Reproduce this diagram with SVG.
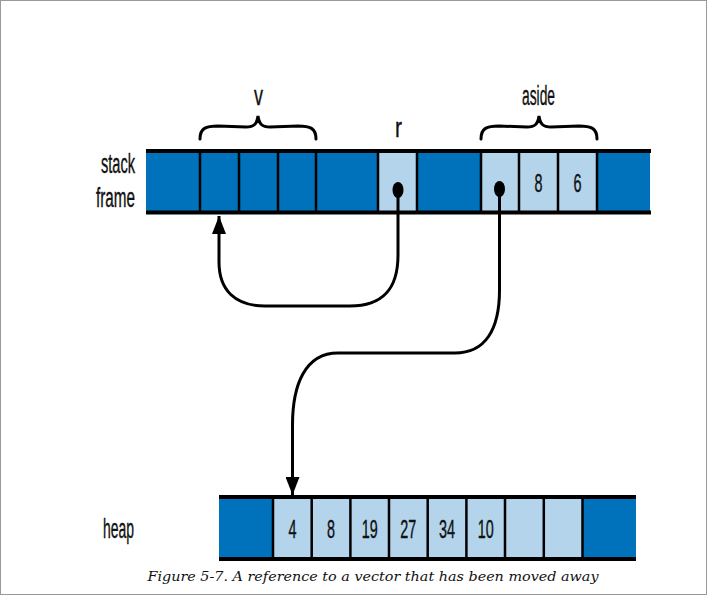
<svg xmlns="http://www.w3.org/2000/svg" width="707" height="595" viewBox="0 0 707 595">
<style>
.dark{fill:#0071bb}
.light{fill:#b3d4ea}
.rail{stroke:#000;stroke-width:4;fill:none}
.div{stroke:#000;stroke-width:2.5}
.lbl{font-family:"Liberation Sans",Arial,sans-serif;font-size:27px;fill:#111;stroke:#111;stroke-width:0.4}
.num{font-family:"Liberation Sans",Arial,sans-serif;font-size:25px;fill:#111;stroke:#111;stroke-width:0.4;text-anchor:middle}
.brace{stroke:#000;stroke-width:3;fill:none;stroke-linecap:round}
.conn{stroke:#000;stroke-width:3;fill:none}
.cap{font-family:"DejaVu Serif","Liberation Serif",serif;font-style:italic;font-size:12.5px;fill:#111;text-anchor:middle}
</style>
<defs>
<marker id="arrow" viewBox="0 0 18 14" refX="18" refY="7" markerWidth="18" markerHeight="14" markerUnits="userSpaceOnUse" orient="auto">
<path d="M0,0 L18,7 L0,14 Z" fill="#000"/>
</marker>
</defs>
<rect x="0.5" y="0.5" width="706" height="594" fill="#fff" stroke="#999" stroke-width="1"/>

<g id="stack-frame">
<rect class="dark" x="146" y="151" width="504" height="61"/>
<rect class="light" x="378" y="151" width="39" height="61"/>
<rect class="light" x="481" y="151" width="116" height="61"/>
<g class="div">
<line x1="200" y1="151" x2="200" y2="212"/>
<line x1="239" y1="151" x2="239" y2="212"/>
<line x1="278" y1="151" x2="278" y2="212"/>
<line x1="316" y1="151" x2="316" y2="212"/>
<line x1="378" y1="151" x2="378" y2="212"/>
<line x1="417" y1="151" x2="417" y2="212"/>
<line x1="481" y1="151" x2="481" y2="212"/>
<line x1="519" y1="151" x2="519" y2="212"/>
<line x1="558" y1="151" x2="558" y2="212"/>
<line x1="597" y1="151" x2="597" y2="212"/>
</g>
<line class="rail" x1="146" y1="151" x2="651" y2="151"/>
<line class="rail" x1="146" y1="212.5" x2="651" y2="212.5"/>
<text class="num" x="538.5" y="192" textLength="8" lengthAdjust="spacingAndGlyphs">8</text>
<text class="num" x="577.5" y="192" textLength="8" lengthAdjust="spacingAndGlyphs">6</text>
<text class="lbl" x="101" y="173" textLength="34" lengthAdjust="spacingAndGlyphs">stack</text>
<text class="lbl" x="96" y="207" textLength="39" lengthAdjust="spacingAndGlyphs">frame</text>
</g>

<g id="v-label">
<path class="brace" d="M200,139 C200,128 206,126 218,126 L246,127 C254,127 257,124 258,116 C259,124 262,127 270,127 L298,126 C310,126 316,128 316,139"/>
<text class="lbl" x="254" y="105" textLength="9" lengthAdjust="spacingAndGlyphs">v</text>
</g>

<g id="r-label">
<text class="lbl" x="395" y="137" textLength="7" lengthAdjust="spacingAndGlyphs">r</text>
</g>

<g id="aside-label">
<path class="brace" d="M481,139 C481,128 487,126 499,126 L527,127 C535,127 538,124 539,116 C540,124 543,127 551,127 L579,126 C591,126 597,128 597,139"/>
<text class="lbl" x="522" y="105" textLength="33" lengthAdjust="spacingAndGlyphs">aside</text>
</g>

<g id="heap">
<rect class="dark" x="219" y="497" width="417" height="62"/>
<rect class="light" x="273" y="497" width="309.5" height="62"/>
<g class="div">
<line x1="273" y1="497" x2="273" y2="559"/>
<line x1="311.7" y1="497" x2="311.7" y2="559"/>
<line x1="350.4" y1="497" x2="350.4" y2="559"/>
<line x1="389" y1="497" x2="389" y2="559"/>
<line x1="427.7" y1="497" x2="427.7" y2="559"/>
<line x1="466.4" y1="497" x2="466.4" y2="559"/>
<line x1="505" y1="497" x2="505" y2="559"/>
<line x1="543.8" y1="497" x2="543.8" y2="559"/>
<line x1="582.5" y1="497" x2="582.5" y2="559"/>
</g>
<line class="rail" x1="219" y1="497" x2="636" y2="497"/>
<line class="rail" x1="219" y1="559" x2="636" y2="559"/>
<text class="num" x="292.5" y="538" textLength="8" lengthAdjust="spacingAndGlyphs">4</text>
<text class="num" x="331" y="538" textLength="8" lengthAdjust="spacingAndGlyphs">8</text>
<text class="num" x="369.7" y="538" textLength="16" lengthAdjust="spacingAndGlyphs">19</text>
<text class="num" x="408.3" y="538" textLength="16" lengthAdjust="spacingAndGlyphs">27</text>
<text class="num" x="447" y="538" textLength="16" lengthAdjust="spacingAndGlyphs">34</text>
<text class="num" x="485.7" y="538" textLength="16" lengthAdjust="spacingAndGlyphs">10</text>
<text class="lbl" x="103" y="538" textLength="31" lengthAdjust="spacingAndGlyphs">heap</text>
</g>

<g id="connectors">
<ellipse cx="398" cy="190" rx="5.5" ry="8" fill="#000"/>
<path class="conn" d="M398,190 L398,255 C398,290 382,306 350,306 L265,306 C235,306 219,290 219,262 L219,216" marker-end="url(#arrow)"/>
<ellipse cx="499.5" cy="189" rx="5.5" ry="8" fill="#000"/>
<path class="conn" d="M499.5,189 L499.5,290 C499.5,330 485,353 455,353 L338,353 C305,353 292.5,385 292.5,425 L292.5,495" marker-end="url(#arrow)"/>
</g>

<g id="caption">
<text class="cap" x="373" y="581" textLength="451" lengthAdjust="spacingAndGlyphs">Figure 5-7. A reference to a vector that has been moved away</text>
</g>
</svg>
